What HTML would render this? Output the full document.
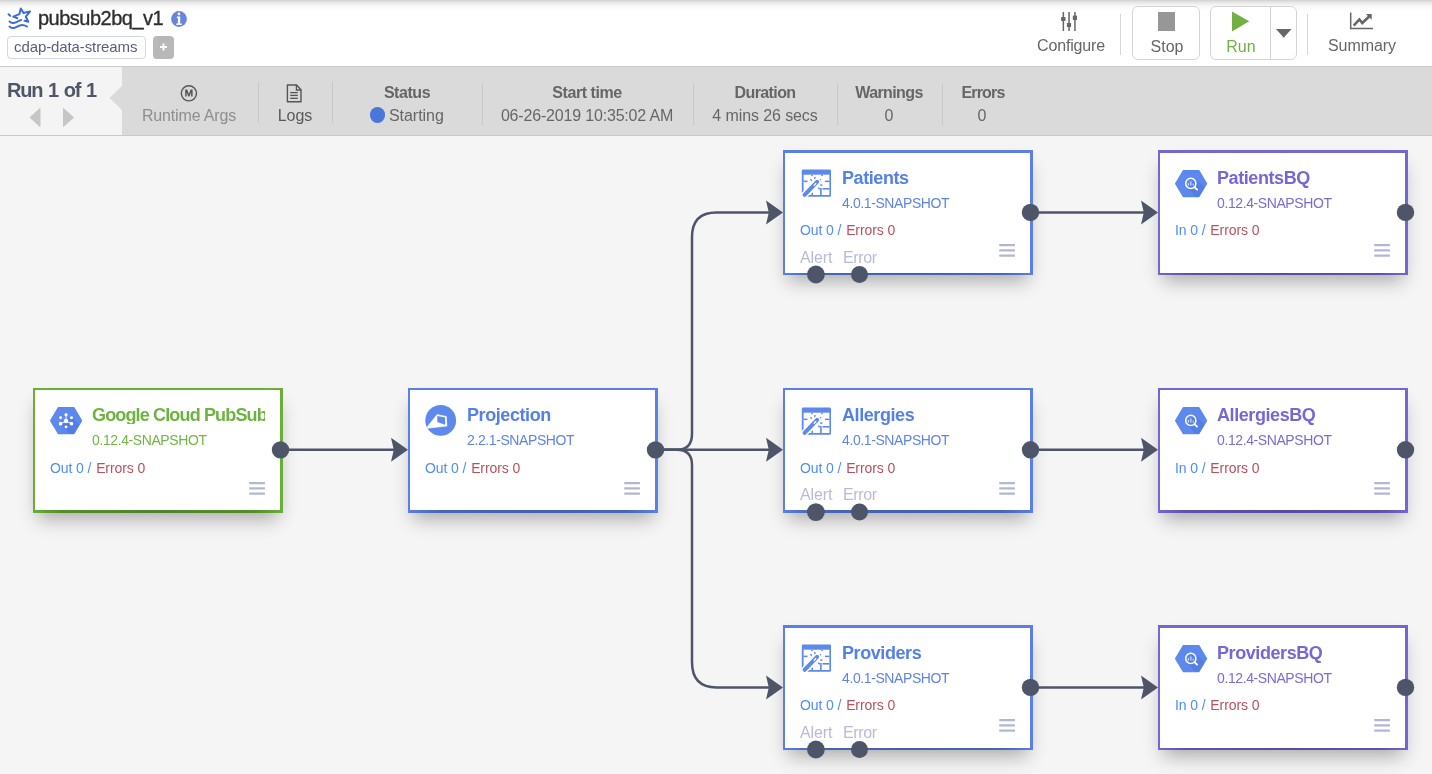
<!DOCTYPE html>
<html><head><meta charset="utf-8"><title>pubsub2bq_v1</title><style>
*{margin:0;padding:0}
html,body{width:1432px;height:774px;overflow:hidden;background:#f5f5f5;font-family:"Liberation Sans", sans-serif}
.t{position:absolute;white-space:nowrap;will-change:transform}
.node{position:absolute;width:250px;height:125px;box-sizing:border-box;border:2px solid;border-right-width:3px;background:#fff;box-shadow:0 11px 18px -5px rgba(0,0,0,0.31)}
</style></head>
<body>
<div style="position:absolute;left:0px;top:0px;width:1432px;height:66px;background:#fff"></div><div style="position:absolute;left:0px;top:0px;width:1432px;height:12px;background:linear-gradient(#d6d6d6 0.5px,#dfdfdf 1.5px,#e6e6e6 2.5px,#ececec 3.5px,#f1f1f1 4.5px,#f5f5f5 5.5px,#f8f8f8 6.5px,#fafafa 7.5px,#fcfcfc 8.5px,#fdfdfd 9.5px,#fefefe 10.5px,#fff 11.5px)"></div><div style="position:absolute;left:0px;top:66px;width:1432px;height:1px;background:#cccccc"></div><svg style="position:absolute;left:0;top:0" width="36" height="34" viewBox="0 0 36 34">
<g fill="none" stroke="#3b6bd8" stroke-width="2" stroke-linecap="round" stroke-linejoin="round">
<path d="M17.4 18.2 L13.2 16.6 L19.4 14.1 L20.8 8.5 L23.5 13 L30.1 11.4 L25.8 16.7 L28.3 21.8 L24.6 20.8"/>
<path d="M9.5 21.5 C11 23 12.5 23.3 14.5 22.8 C17 22 19 20.6 21.3 19.9"/>
<path d="M9.5 26.6 C11 28.1 12.5 28.4 14.5 27.8 C17 27 19 24.9 22 24.9 C24 24.9 25.5 25.6 27 26.5"/>
<path d="M8.6 14.3 L10.2 15.8"/>
</g></svg><div class="t" style="left:38.3px;top:8.00px;font-size:20px;line-height:20px;color:#2e2e2e;font-weight:400;letter-spacing:-0.5px;-webkit-text-stroke:0.35px #2e2e2e">pubsub2bq_v1</div><svg style="position:absolute;left:171px;top:11.3px" width="16" height="16" viewBox="0 0 16 16">
<circle cx="8" cy="8" r="7.9" fill="#6884de"/>
<circle cx="8" cy="2.9" r="1.35" fill="#fff"/>
<path d="M5.9 5.6 H9.2 V12.4 H10.9 V13.9 H5.3 V12.4 H6.9 V7 H5.9 Z" fill="#fff"/></svg><div style="position:absolute;left:7px;top:36px;width:139px;height:23px;box-sizing:border-box;border:1px solid #d2d5e6;border-radius:4px;background:#fff"></div><div class="t" style="left:14.3px;top:39.00px;font-size:15px;line-height:15px;color:#575f82;font-weight:400;letter-spacing:-0.1px;">cdap-data-streams</div><div style="position:absolute;left:153px;top:36px;width:21px;height:23px;background:#b8b8b8;border-radius:4px"></div><svg style="position:absolute;left:153px;top:36px" width="21" height="23"><path d="M10.5 7.6 V14.6 M7 11 H14" stroke="#fff" stroke-width="1.9"/></svg><svg style="position:absolute;left:1059px;top:11px" width="20" height="21" viewBox="0 0 20 21">
<g fill="#666"><rect x="3.6" y="1" width="1.5" height="19"/><rect x="9.3" y="1" width="1.5" height="19"/><rect x="15.2" y="1" width="1.5" height="19"/>
<rect x="2.1" y="6" width="4.4" height="4" rx=".5"/><rect x="7.9" y="12" width="4.2" height="4" rx=".5"/><rect x="13.8" y="4.6" width="4.2" height="4.4" rx=".5"/></g></svg><div class="t" style="left:920.5px;width:300px;text-align:center;top:38.00px;font-size:16px;line-height:16px;color:#666;font-weight:400;letter-spacing:-0.15px;">Configure</div><div style="position:absolute;left:1120px;top:14px;width:1px;height:41px;background:#d6d6d6"></div><div style="position:absolute;left:1132px;top:6px;width:68px;height:54px;box-sizing:border-box;border:1px solid #d4d4d4;border-radius:6px;background:#fff"></div><div style="position:absolute;left:1158px;top:12px;width:17px;height:18.5px;background:#979797"></div><div class="t" style="left:1016.5px;width:300px;text-align:center;top:39.00px;font-size:16px;line-height:16px;color:#666;font-weight:400;letter-spacing:0px;">Stop</div><div style="position:absolute;left:1210px;top:6px;width:87px;height:54px;box-sizing:border-box;border:1px solid #d4d4d4;border-radius:6px;background:#fff"></div><div style="position:absolute;left:1270px;top:6px;width:1px;height:54px;background:#d4d4d4"></div><svg style="position:absolute;left:1231px;top:11px" width="20" height="21"><path d="M1 0.5 L18.2 10.3 L1 20.5 Z" fill="#72b043"/></svg><div class="t" style="left:1091.0px;width:300px;text-align:center;top:39.00px;font-size:16px;line-height:16px;color:#72b043;font-weight:400;letter-spacing:0px;">Run</div><svg style="position:absolute;left:1275px;top:28px" width="18" height="11"><path d="M1 1 H16.5 L8.75 9.8 Z" fill="#666"/></svg><div style="position:absolute;left:1307px;top:14px;width:1px;height:41px;background:#d6d6d6"></div><svg style="position:absolute;left:1349px;top:11px" width="26" height="20" viewBox="0 0 26 20">
<g fill="none" stroke="#666"><path d="M1.7 1.5 V17.5 H24" stroke-width="1.5"/>
<path d="M4.7 14.6 L10.4 8.4 L13.3 12 L20.4 5.2" stroke-width="2.6"/></g>
<path d="M16.9 3 H22.7 V8.8 Z" fill="#666"/></svg><div class="t" style="left:1211.5px;width:300px;text-align:center;top:38.00px;font-size:16px;line-height:16px;color:#666;font-weight:400;letter-spacing:-0.05px;">Summary</div><div style="position:absolute;left:0px;top:67px;width:1432px;height:68px;background:#dadada"></div><div style="position:absolute;left:0px;top:135px;width:1432px;height:1px;background:#c9c9c9"></div><svg style="position:absolute;left:0;top:67px" width="123" height="68"><path d="M0 0 H122 V19 L109.5 31 L122 43 V68 H0 Z" fill="#f4f4f4"/></svg><div class="t" style="left:6.5px;top:80.00px;font-size:20px;line-height:20px;color:#4f5668;font-weight:700;letter-spacing:-1.2px;word-spacing:1.4px">Run 1 of 1</div><svg style="position:absolute;left:29px;top:107px" width="46" height="20"><path d="M11 1.5 L1 10.5 L11 19.5 Z" fill="#c6c6c6" stroke="#c6c6c6" stroke-linejoin="round" stroke-width="1"/><path d="M34.5 1.5 L44.5 10.5 L34.5 19.5 Z" fill="#c6c6c6" stroke="#c6c6c6" stroke-linejoin="round" stroke-width="1"/></svg><svg style="position:absolute;left:180px;top:84px" width="19" height="19" viewBox="0 0 19 19">
<circle cx="8.9" cy="9.3" r="7.6" fill="none" stroke="#555" stroke-width="1.4"/>
<path d="M5.2 12.6 V5.6 H7.2 L8.9 10.1 L10.6 5.6 H12.6 V12.6 H11.1 V8.3 L9.5 12.6 H8.3 L6.7 8.3 V12.6 Z" fill="#555"/></svg><div class="t" style="left:39.4px;width:300px;text-align:center;top:108.00px;font-size:16px;line-height:16px;color:#8e8e8e;font-weight:400;letter-spacing:-0.15px;">Runtime Args</div><div style="position:absolute;left:258px;top:82px;width:1px;height:41px;background:#c8c8c8"></div><svg style="position:absolute;left:285px;top:84px" width="18" height="20" viewBox="0 0 18 20">
<path d="M2.4 1 H11.6 L16 5.8 V17.8 H2.4 Z" fill="none" stroke="#555" stroke-width="1.4" stroke-linejoin="round"/>
<path d="M11.4 1 V6 H16" fill="none" stroke="#555" stroke-width="1.3"/>
<g stroke="#555" stroke-width="1.3"><path d="M5.2 8.6 H12.8"/><path d="M5.2 11.4 H12.8"/><path d="M5.2 14.3 H12.8"/></g></svg><div class="t" style="left:144.5px;width:300px;text-align:center;top:108.00px;font-size:16px;line-height:16px;color:#5a5a5a;font-weight:400;letter-spacing:0px;">Logs</div><div style="position:absolute;left:332px;top:82px;width:1px;height:41px;background:#c8c8c8"></div><div class="t" style="left:257.3px;width:300px;text-align:center;top:85.00px;font-size:16px;line-height:16px;color:#666;font-weight:700;letter-spacing:-0.45px;">Status</div><div style="position:absolute;left:369.5px;top:107.4px;width:15.2px;height:15.2px;border-radius:50%;background:#4a76d9"></div><div class="t" style="left:389.2px;top:108.00px;font-size:16px;line-height:16px;color:#666;font-weight:400;letter-spacing:-0.05px;">Starting</div><div style="position:absolute;left:482px;top:84px;width:1px;height:41px;background:#c8c8c8"></div><div class="t" style="left:437.3px;width:300px;text-align:center;top:85.00px;font-size:16px;line-height:16px;color:#666;font-weight:700;letter-spacing:-0.45px;">Start time</div><div class="t" style="left:437.0px;width:300px;text-align:center;top:108.00px;font-size:16px;line-height:16px;color:#666;font-weight:400;letter-spacing:-0.18px;">06-26-2019 10:35:02 AM</div><div style="position:absolute;left:693px;top:84px;width:1px;height:41px;background:#c8c8c8"></div><div class="t" style="left:614.5px;width:300px;text-align:center;top:85.00px;font-size:16px;line-height:16px;color:#666;font-weight:700;letter-spacing:-0.6px;">Duration</div><div class="t" style="left:614.6px;width:300px;text-align:center;top:108.00px;font-size:16px;line-height:16px;color:#666;font-weight:400;letter-spacing:-0.1px;">4 mins 26 secs</div><div style="position:absolute;left:837px;top:84px;width:1px;height:41px;background:#c8c8c8"></div><div class="t" style="left:739.2px;width:300px;text-align:center;top:85.00px;font-size:16px;line-height:16px;color:#666;font-weight:700;letter-spacing:-0.6px;">Warnings</div><div class="t" style="left:739.4px;width:300px;text-align:center;top:108.00px;font-size:16px;line-height:16px;color:#666;font-weight:400;letter-spacing:0px;">0</div><div style="position:absolute;left:942px;top:84px;width:1px;height:41px;background:#c8c8c8"></div><div class="t" style="left:833.0px;width:300px;text-align:center;top:85.00px;font-size:16px;line-height:16px;color:#666;font-weight:700;letter-spacing:-0.8px;">Errors</div><div class="t" style="left:832.2px;width:300px;text-align:center;top:108.00px;font-size:16px;line-height:16px;color:#666;font-weight:400;letter-spacing:0px;">0</div><div style="position:absolute;left:0px;top:136px;width:1432px;height:638px;background:#f5f5f5"></div>

<div id="nodes"><div class="node" style="left:33px;top:388px;border-color:#6aae38;border-top-width:2px;border-bottom-width:3px"></div><div style="position:absolute;left:33px;top:510px;width:250px;height:3px;background:linear-gradient(90deg,rgba(0,0,0,0) 0,rgba(0,0,0,.2) 12%,rgba(0,0,0,.25) 50%,rgba(0,0,0,.2) 88%,rgba(0,0,0,0))"></div><svg style="position:absolute;left:49.9px;top:406.7px" width="33" height="29" viewBox="0 0 33 29"><defs><clipPath id="hc1"><path d="M8.35 0.6 H23.85 L31.6 13.65 L23.85 26.7 H8.35 L0.6 13.65 Z" stroke-width="1.2"/></clipPath></defs><path d="M8.35 0.6 H23.85 L31.6 13.65 L23.85 26.7 H8.35 L0.6 13.65 Z" fill="#5d88ee" stroke="#5d88ee" stroke-width="1.2" stroke-linejoin="round"/><g clip-path="url(#hc1)"><g transform="translate(-0.4,-0.5)"><path d="M11 18 L22 29 H33 V22 L22.4 11 L16.4 14.4 Z" fill="#3c64c8" opacity="0.3"/><g fill="#fff"><circle cx="16.45" cy="14.5" r="2.2"/><circle cx="16.45" cy="8.2" r="1.6"/><circle cx="11" cy="11.2" r="1.45"/><circle cx="21.9" cy="11.2" r="1.45"/><rect x="9.3" y="15.6" width="3.4" height="3.3" rx="1.3"/><rect x="20.2" y="15.6" width="3.4" height="3.3" rx="1.3"/><circle cx="16.45" cy="20.4" r="1.45"/></g><g stroke="#fff" stroke-width="0.9"><path d="M16.45 14.5 V8.2"/><path d="M16.45 14.5 L11 17.3"/><path d="M16.45 14.5 L21.9 17.3"/></g></g></g></svg><div class="t" style="left:91.5px;top:406.00px;font-size:18px;line-height:18px;color:#6db33f;font-weight:700;letter-spacing:-0.85px;width:173px;overflow:hidden;">Google Cloud PubSub</div><div class="t" style="left:91.6px;top:433.00px;font-size:14px;line-height:14px;color:#72b545;font-weight:400;letter-spacing:-0.4px;">0.12.4-SNAPSHOT</div><div class="t" style="left:50.0px;top:461.00px;font-size:14px;line-height:14px;color:#4f8ef5;font-weight:400;letter-spacing:-0.1px;"><span style="color:#4f8ef5">Out 0 /</span> <span style="color:#b7515c;margin-left:1px">Errors 0</span></div><svg style="position:absolute;left:249px;top:481px" width="17" height="15"><g fill="#b2b6d5"><rect x="0.2" y="1" width="15.8" height="2.2" rx="0.6"/><rect x="0.2" y="6.2" width="15.8" height="2.3" rx="0.6"/><rect x="0.2" y="11.4" width="15.8" height="2.3" rx="0.6"/></g></svg><div class="node" style="left:408px;top:388px;border-color:#5a80e6;border-top-width:2px;border-bottom-width:3px"></div><div style="position:absolute;left:408px;top:510px;width:250px;height:3px;background:linear-gradient(90deg,rgba(0,0,0,0) 0,rgba(0,0,0,.2) 12%,rgba(0,0,0,.25) 50%,rgba(0,0,0,.2) 88%,rgba(0,0,0,0))"></div><svg style="position:absolute;left:425px;top:405px" width="32" height="32" viewBox="0 0 32 32"><circle cx="15.7" cy="15.4" r="15.4" fill="#5d88ee"/><path d="M2.2 21.9 L12.1 9.5 L21.4 11.5 L21.9 21.1 L2.8 23.2 Z" fill="#fff" stroke="#fff" stroke-width="0.6" stroke-linejoin="round"/><path d="M12.3 11 L20.1 12.6 L20.1 19.8 L12.3 17 Z" fill="#5d88ee"/></svg><div class="t" style="left:466.5px;top:406.00px;font-size:18px;line-height:18px;color:#5580ea;font-weight:700;letter-spacing:-0.42px;">Projection</div><div class="t" style="left:466.6px;top:433.00px;font-size:14px;line-height:14px;color:#5e84e6;font-weight:400;letter-spacing:-0.4px;">2.2.1-SNAPSHOT</div><div class="t" style="left:425.0px;top:461.00px;font-size:14px;line-height:14px;color:#4f8ef5;font-weight:400;letter-spacing:-0.1px;"><span style="color:#4f8ef5">Out 0 /</span> <span style="color:#b7515c;margin-left:1px">Errors 0</span></div><svg style="position:absolute;left:624px;top:481px" width="17" height="15"><g fill="#b2b6d5"><rect x="0.2" y="1" width="15.8" height="2.2" rx="0.6"/><rect x="0.2" y="6.2" width="15.8" height="2.3" rx="0.6"/><rect x="0.2" y="11.4" width="15.8" height="2.3" rx="0.6"/></g></svg><div class="node" style="left:783px;top:150px;border-color:#5a80e6;border-top-width:3px;border-bottom-width:2px"></div><div style="position:absolute;left:783px;top:273px;width:250px;height:2px;background:linear-gradient(90deg,rgba(0,0,0,0) 0,rgba(0,0,0,.2) 12%,rgba(0,0,0,.25) 50%,rgba(0,0,0,.2) 88%,rgba(0,0,0,0))"></div><svg style="position:absolute;left:800.5px;top:169px" width="31" height="29" viewBox="0 0 31 29"><rect x="0.8" y="0.5" width="29.2" height="27.2" rx="1.3" fill="#5d88ee"/><rect x="2.6" y="5.7" width="25.8" height="20.3" fill="#fff"/><g fill="#5d88ee"><rect x="2.6" y="11.6" width="3.9" height="1.5"/><rect x="23.9" y="11.6" width="4.5" height="1.5"/><rect x="21.6" y="19" width="6.8" height="1.6"/><rect x="19.1" y="19" width="1.6" height="7"/><rect x="10.5" y="23.6" width="1.5" height="2.5"/><rect x="10.3" y="5.5" width="1.5" height="1.6"/><rect x="20.3" y="5.5" width="1.5" height="1.6"/><rect x="13.2" y="8" width="1.4" height="2.3"/><rect x="9.4" y="9.8" width="1.4" height="2.2" transform="rotate(-45 10.1 10.9)"/><rect x="18.4" y="9.8" width="1.4" height="2.2" transform="rotate(45 19.1 10.9)"/><rect x="19.1" y="15.4" width="2.4" height="1.4"/><rect x="17.3" y="18.4" width="1.4" height="2.2" transform="rotate(-45 18 19.5)"/></g><path d="M3.6 25.8 L16.1 12.8" stroke="#fff" stroke-width="6.8" stroke-linecap="round"/><path d="M3.6 25.8 L16.1 12.8" stroke="#5d88ee" stroke-width="4" stroke-linecap="round"/><path d="M13.2 16.2 L14.8 14.5" stroke="#fff" stroke-width="1.3" stroke-linecap="round"/></svg><div class="t" style="left:841.5px;top:169.00px;font-size:18px;line-height:18px;color:#5580ea;font-weight:700;letter-spacing:-0.42px;">Patients</div><div class="t" style="left:841.6px;top:196.00px;font-size:14px;line-height:14px;color:#5e84e6;font-weight:400;letter-spacing:-0.4px;">4.0.1-SNAPSHOT</div><div class="t" style="left:800.0px;top:223.00px;font-size:14px;line-height:14px;color:#4f8ef5;font-weight:400;letter-spacing:-0.1px;"><span style="color:#4f8ef5">Out 0 /</span> <span style="color:#b7515c;margin-left:1px">Errors 0</span></div><svg style="position:absolute;left:999px;top:243px" width="17" height="15"><g fill="#b2b6d5"><rect x="0.2" y="1" width="15.8" height="2.2" rx="0.6"/><rect x="0.2" y="6.2" width="15.8" height="2.3" rx="0.6"/><rect x="0.2" y="11.4" width="15.8" height="2.3" rx="0.6"/></g></svg><div class="t" style="left:799.6px;top:250.00px;font-size:16px;line-height:16px;color:#b8bbd8;font-weight:400;letter-spacing:-0.1px;">Alert</div><div class="t" style="left:842.6px;top:250.00px;font-size:16px;line-height:16px;color:#b8bbd8;font-weight:400;letter-spacing:-0.35px;">Error</div><div class="node" style="left:1158px;top:150px;border-color:#7466d3;border-top-width:3px;border-bottom-width:2px"></div><div style="position:absolute;left:1158px;top:273px;width:250px;height:2px;background:linear-gradient(90deg,rgba(0,0,0,0) 0,rgba(0,0,0,.2) 12%,rgba(0,0,0,.25) 50%,rgba(0,0,0,.2) 88%,rgba(0,0,0,0))"></div><svg style="position:absolute;left:1174.8px;top:169.9px" width="33" height="29" viewBox="0 0 33 29"><defs><clipPath id="hc2"><path d="M8.35 0.6 H23.85 L31.6 13.65 L23.85 26.7 H8.35 L0.6 13.65 Z" stroke-width="1.2"/></clipPath></defs><path d="M8.35 0.6 H23.85 L31.6 13.65 L23.85 26.7 H8.35 L0.6 13.65 Z" fill="#5d88ee" stroke="#5d88ee" stroke-width="1.2" stroke-linejoin="round"/><g clip-path="url(#hc2)"><g transform="translate(-0.5,-0.75)"><path d="M12.8 18.6 L22 28.5 H33 V20 L20.4 9.8 Z" fill="#3c64c8" opacity="0.28"/><circle cx="16.3" cy="14.2" r="5.1" fill="none" stroke="#fff" stroke-width="1.5"/><path d="M20 18 L22.6 20.4" stroke="#fff" stroke-width="1.8" stroke-linecap="round"/><g fill="#c9d5f6"><rect x="13.3" y="13.8" width="1.2" height="2.5"/><rect x="15.7" y="12.3" width="1.3" height="4"/><rect x="18.1" y="14.3" width="1.2" height="2"/></g></g></g></svg><div class="t" style="left:1216.5px;top:169.00px;font-size:18px;line-height:18px;color:#7767d6;font-weight:700;letter-spacing:-0.42px;">PatientsBQ</div><div class="t" style="left:1216.6px;top:196.00px;font-size:14px;line-height:14px;color:#7a6cd6;font-weight:400;letter-spacing:-0.4px;">0.12.4-SNAPSHOT</div><div class="t" style="left:1175.0px;top:223.00px;font-size:14px;line-height:14px;color:#4f8ef5;font-weight:400;letter-spacing:-0.1px;"><span style="color:#4f8ef5">In 0 /</span> <span style="color:#b7515c;margin-left:1px">Errors 0</span></div><svg style="position:absolute;left:1374px;top:243px" width="17" height="15"><g fill="#b2b6d5"><rect x="0.2" y="1" width="15.8" height="2.2" rx="0.6"/><rect x="0.2" y="6.2" width="15.8" height="2.3" rx="0.6"/><rect x="0.2" y="11.4" width="15.8" height="2.3" rx="0.6"/></g></svg><div class="node" style="left:783px;top:388px;border-color:#5a80e6;border-top-width:2px;border-bottom-width:3px"></div><div style="position:absolute;left:783px;top:510px;width:250px;height:3px;background:linear-gradient(90deg,rgba(0,0,0,0) 0,rgba(0,0,0,.2) 12%,rgba(0,0,0,.25) 50%,rgba(0,0,0,.2) 88%,rgba(0,0,0,0))"></div><svg style="position:absolute;left:800.5px;top:407px" width="31" height="29" viewBox="0 0 31 29"><rect x="0.8" y="0.5" width="29.2" height="27.2" rx="1.3" fill="#5d88ee"/><rect x="2.6" y="5.7" width="25.8" height="20.3" fill="#fff"/><g fill="#5d88ee"><rect x="2.6" y="11.6" width="3.9" height="1.5"/><rect x="23.9" y="11.6" width="4.5" height="1.5"/><rect x="21.6" y="19" width="6.8" height="1.6"/><rect x="19.1" y="19" width="1.6" height="7"/><rect x="10.5" y="23.6" width="1.5" height="2.5"/><rect x="10.3" y="5.5" width="1.5" height="1.6"/><rect x="20.3" y="5.5" width="1.5" height="1.6"/><rect x="13.2" y="8" width="1.4" height="2.3"/><rect x="9.4" y="9.8" width="1.4" height="2.2" transform="rotate(-45 10.1 10.9)"/><rect x="18.4" y="9.8" width="1.4" height="2.2" transform="rotate(45 19.1 10.9)"/><rect x="19.1" y="15.4" width="2.4" height="1.4"/><rect x="17.3" y="18.4" width="1.4" height="2.2" transform="rotate(-45 18 19.5)"/></g><path d="M3.6 25.8 L16.1 12.8" stroke="#fff" stroke-width="6.8" stroke-linecap="round"/><path d="M3.6 25.8 L16.1 12.8" stroke="#5d88ee" stroke-width="4" stroke-linecap="round"/><path d="M13.2 16.2 L14.8 14.5" stroke="#fff" stroke-width="1.3" stroke-linecap="round"/></svg><div class="t" style="left:841.5px;top:406.00px;font-size:18px;line-height:18px;color:#5580ea;font-weight:700;letter-spacing:-0.42px;">Allergies</div><div class="t" style="left:841.6px;top:433.00px;font-size:14px;line-height:14px;color:#5e84e6;font-weight:400;letter-spacing:-0.4px;">4.0.1-SNAPSHOT</div><div class="t" style="left:800.0px;top:461.00px;font-size:14px;line-height:14px;color:#4f8ef5;font-weight:400;letter-spacing:-0.1px;"><span style="color:#4f8ef5">Out 0 /</span> <span style="color:#b7515c;margin-left:1px">Errors 0</span></div><svg style="position:absolute;left:999px;top:481px" width="17" height="15"><g fill="#b2b6d5"><rect x="0.2" y="1" width="15.8" height="2.2" rx="0.6"/><rect x="0.2" y="6.2" width="15.8" height="2.3" rx="0.6"/><rect x="0.2" y="11.4" width="15.8" height="2.3" rx="0.6"/></g></svg><div class="t" style="left:799.6px;top:487.00px;font-size:16px;line-height:16px;color:#b8bbd8;font-weight:400;letter-spacing:-0.1px;">Alert</div><div class="t" style="left:842.6px;top:487.00px;font-size:16px;line-height:16px;color:#b8bbd8;font-weight:400;letter-spacing:-0.35px;">Error</div><div class="node" style="left:1158px;top:388px;border-color:#7466d3;border-top-width:2px;border-bottom-width:3px"></div><div style="position:absolute;left:1158px;top:510px;width:250px;height:3px;background:linear-gradient(90deg,rgba(0,0,0,0) 0,rgba(0,0,0,.2) 12%,rgba(0,0,0,.25) 50%,rgba(0,0,0,.2) 88%,rgba(0,0,0,0))"></div><svg style="position:absolute;left:1174.8px;top:407px" width="33" height="29" viewBox="0 0 33 29"><defs><clipPath id="hc3"><path d="M8.35 0.6 H23.85 L31.6 13.65 L23.85 26.7 H8.35 L0.6 13.65 Z" stroke-width="1.2"/></clipPath></defs><path d="M8.35 0.6 H23.85 L31.6 13.65 L23.85 26.7 H8.35 L0.6 13.65 Z" fill="#5d88ee" stroke="#5d88ee" stroke-width="1.2" stroke-linejoin="round"/><g clip-path="url(#hc3)"><g transform="translate(-0.5,-0.75)"><path d="M12.8 18.6 L22 28.5 H33 V20 L20.4 9.8 Z" fill="#3c64c8" opacity="0.28"/><circle cx="16.3" cy="14.2" r="5.1" fill="none" stroke="#fff" stroke-width="1.5"/><path d="M20 18 L22.6 20.4" stroke="#fff" stroke-width="1.8" stroke-linecap="round"/><g fill="#c9d5f6"><rect x="13.3" y="13.8" width="1.2" height="2.5"/><rect x="15.7" y="12.3" width="1.3" height="4"/><rect x="18.1" y="14.3" width="1.2" height="2"/></g></g></g></svg><div class="t" style="left:1216.5px;top:406.00px;font-size:18px;line-height:18px;color:#7767d6;font-weight:700;letter-spacing:-0.42px;">AllergiesBQ</div><div class="t" style="left:1216.6px;top:433.00px;font-size:14px;line-height:14px;color:#7a6cd6;font-weight:400;letter-spacing:-0.4px;">0.12.4-SNAPSHOT</div><div class="t" style="left:1175.0px;top:461.00px;font-size:14px;line-height:14px;color:#4f8ef5;font-weight:400;letter-spacing:-0.1px;"><span style="color:#4f8ef5">In 0 /</span> <span style="color:#b7515c;margin-left:1px">Errors 0</span></div><svg style="position:absolute;left:1374px;top:481px" width="17" height="15"><g fill="#b2b6d5"><rect x="0.2" y="1" width="15.8" height="2.2" rx="0.6"/><rect x="0.2" y="6.2" width="15.8" height="2.3" rx="0.6"/><rect x="0.2" y="11.4" width="15.8" height="2.3" rx="0.6"/></g></svg><div class="node" style="left:783px;top:625px;border-color:#5a80e6;border-top-width:3px;border-bottom-width:2px"></div><div style="position:absolute;left:783px;top:748px;width:250px;height:2px;background:linear-gradient(90deg,rgba(0,0,0,0) 0,rgba(0,0,0,.2) 12%,rgba(0,0,0,.25) 50%,rgba(0,0,0,.2) 88%,rgba(0,0,0,0))"></div><svg style="position:absolute;left:800.5px;top:644px" width="31" height="29" viewBox="0 0 31 29"><rect x="0.8" y="0.5" width="29.2" height="27.2" rx="1.3" fill="#5d88ee"/><rect x="2.6" y="5.7" width="25.8" height="20.3" fill="#fff"/><g fill="#5d88ee"><rect x="2.6" y="11.6" width="3.9" height="1.5"/><rect x="23.9" y="11.6" width="4.5" height="1.5"/><rect x="21.6" y="19" width="6.8" height="1.6"/><rect x="19.1" y="19" width="1.6" height="7"/><rect x="10.5" y="23.6" width="1.5" height="2.5"/><rect x="10.3" y="5.5" width="1.5" height="1.6"/><rect x="20.3" y="5.5" width="1.5" height="1.6"/><rect x="13.2" y="8" width="1.4" height="2.3"/><rect x="9.4" y="9.8" width="1.4" height="2.2" transform="rotate(-45 10.1 10.9)"/><rect x="18.4" y="9.8" width="1.4" height="2.2" transform="rotate(45 19.1 10.9)"/><rect x="19.1" y="15.4" width="2.4" height="1.4"/><rect x="17.3" y="18.4" width="1.4" height="2.2" transform="rotate(-45 18 19.5)"/></g><path d="M3.6 25.8 L16.1 12.8" stroke="#fff" stroke-width="6.8" stroke-linecap="round"/><path d="M3.6 25.8 L16.1 12.8" stroke="#5d88ee" stroke-width="4" stroke-linecap="round"/><path d="M13.2 16.2 L14.8 14.5" stroke="#fff" stroke-width="1.3" stroke-linecap="round"/></svg><div class="t" style="left:841.5px;top:644.00px;font-size:18px;line-height:18px;color:#5580ea;font-weight:700;letter-spacing:-0.42px;">Providers</div><div class="t" style="left:841.6px;top:671.00px;font-size:14px;line-height:14px;color:#5e84e6;font-weight:400;letter-spacing:-0.4px;">4.0.1-SNAPSHOT</div><div class="t" style="left:800.0px;top:698.00px;font-size:14px;line-height:14px;color:#4f8ef5;font-weight:400;letter-spacing:-0.1px;"><span style="color:#4f8ef5">Out 0 /</span> <span style="color:#b7515c;margin-left:1px">Errors 0</span></div><svg style="position:absolute;left:999px;top:718px" width="17" height="15"><g fill="#b2b6d5"><rect x="0.2" y="1" width="15.8" height="2.2" rx="0.6"/><rect x="0.2" y="6.2" width="15.8" height="2.3" rx="0.6"/><rect x="0.2" y="11.4" width="15.8" height="2.3" rx="0.6"/></g></svg><div class="t" style="left:799.6px;top:725.00px;font-size:16px;line-height:16px;color:#b8bbd8;font-weight:400;letter-spacing:-0.1px;">Alert</div><div class="t" style="left:842.6px;top:725.00px;font-size:16px;line-height:16px;color:#b8bbd8;font-weight:400;letter-spacing:-0.35px;">Error</div><div class="node" style="left:1158px;top:625px;border-color:#7466d3;border-top-width:3px;border-bottom-width:2px"></div><div style="position:absolute;left:1158px;top:748px;width:250px;height:2px;background:linear-gradient(90deg,rgba(0,0,0,0) 0,rgba(0,0,0,.2) 12%,rgba(0,0,0,.25) 50%,rgba(0,0,0,.2) 88%,rgba(0,0,0,0))"></div><svg style="position:absolute;left:1174.8px;top:644.9px" width="33" height="29" viewBox="0 0 33 29"><defs><clipPath id="hc4"><path d="M8.35 0.6 H23.85 L31.6 13.65 L23.85 26.7 H8.35 L0.6 13.65 Z" stroke-width="1.2"/></clipPath></defs><path d="M8.35 0.6 H23.85 L31.6 13.65 L23.85 26.7 H8.35 L0.6 13.65 Z" fill="#5d88ee" stroke="#5d88ee" stroke-width="1.2" stroke-linejoin="round"/><g clip-path="url(#hc4)"><g transform="translate(-0.5,-0.75)"><path d="M12.8 18.6 L22 28.5 H33 V20 L20.4 9.8 Z" fill="#3c64c8" opacity="0.28"/><circle cx="16.3" cy="14.2" r="5.1" fill="none" stroke="#fff" stroke-width="1.5"/><path d="M20 18 L22.6 20.4" stroke="#fff" stroke-width="1.8" stroke-linecap="round"/><g fill="#c9d5f6"><rect x="13.3" y="13.8" width="1.2" height="2.5"/><rect x="15.7" y="12.3" width="1.3" height="4"/><rect x="18.1" y="14.3" width="1.2" height="2"/></g></g></g></svg><div class="t" style="left:1216.5px;top:644.00px;font-size:18px;line-height:18px;color:#7767d6;font-weight:700;letter-spacing:-0.42px;">ProvidersBQ</div><div class="t" style="left:1216.6px;top:671.00px;font-size:14px;line-height:14px;color:#7a6cd6;font-weight:400;letter-spacing:-0.4px;">0.12.4-SNAPSHOT</div><div class="t" style="left:1175.0px;top:698.00px;font-size:14px;line-height:14px;color:#4f8ef5;font-weight:400;letter-spacing:-0.1px;"><span style="color:#4f8ef5">In 0 /</span> <span style="color:#b7515c;margin-left:1px">Errors 0</span></div><svg style="position:absolute;left:1374px;top:718px" width="17" height="15"><g fill="#b2b6d5"><rect x="0.2" y="1" width="15.8" height="2.2" rx="0.6"/><rect x="0.2" y="6.2" width="15.8" height="2.3" rx="0.6"/><rect x="0.2" y="11.4" width="15.8" height="2.3" rx="0.6"/></g></svg></div>
<svg style="position:absolute;left:0;top:0" width="1432" height="774"><g fill="none" stroke="#4e5568" stroke-width="2.5"><path d="M281 449.8 H396"/><path d="M656 449.8 H771"/><path d="M656 449.8 H676.5 Q692 449.8 692 434 V237 Q692 212.4 716.5 212.4 H771"/><path d="M656 449.8 H676.5 Q692 449.8 692 465 V662 Q692 687.4 716.5 687.4 H771"/><path d="M1031 212.4 H1146"/><path d="M1031 449.8 H1146"/><path d="M1031 687.4 H1146"/></g><path d="M783 212.4 L766 200.4 L768.8 212.4 L766 224.4 Z" fill="#4e5568"/><path d="M1158 212.4 L1141 200.4 L1143.8 212.4 L1141 224.4 Z" fill="#4e5568"/><path d="M783 449.8 L766 437.8 L768.8 449.8 L766 461.8 Z" fill="#4e5568"/><path d="M1158 449.8 L1141 437.8 L1143.8 449.8 L1141 461.8 Z" fill="#4e5568"/><path d="M783 687.4 L766 675.4 L768.8 687.4 L766 699.4 Z" fill="#4e5568"/><path d="M1158 687.4 L1141 675.4 L1143.8 687.4 L1141 699.4 Z" fill="#4e5568"/><path d="M408 449.8 L391 437.8 L393.8 449.8 L391 461.8 Z" fill="#4e5568"/><circle cx="280.5" cy="449.9" r="8.7" fill="#4e5568"/><circle cx="655.5" cy="449.9" r="8.7" fill="#4e5568"/><circle cx="1030.5" cy="212.4" r="8.7" fill="#4e5568"/><circle cx="1405.5" cy="212.4" r="8.7" fill="#4e5568"/><circle cx="815.9" cy="274.5" r="8.9" fill="#4e5568"/><circle cx="859.5" cy="274.5" r="8.5" fill="#4e5568"/><circle cx="1030.5" cy="449.8" r="8.7" fill="#4e5568"/><circle cx="1405.5" cy="449.8" r="8.7" fill="#4e5568"/><circle cx="815.9" cy="512.1" r="8.9" fill="#4e5568"/><circle cx="859.5" cy="512.1" r="8.5" fill="#4e5568"/><circle cx="1030.5" cy="687.4" r="8.7" fill="#4e5568"/><circle cx="1405.5" cy="687.4" r="8.7" fill="#4e5568"/><circle cx="815.9" cy="749.5" r="8.9" fill="#4e5568"/><circle cx="859.5" cy="749.5" r="8.5" fill="#4e5568"/></svg>
</body></html>
